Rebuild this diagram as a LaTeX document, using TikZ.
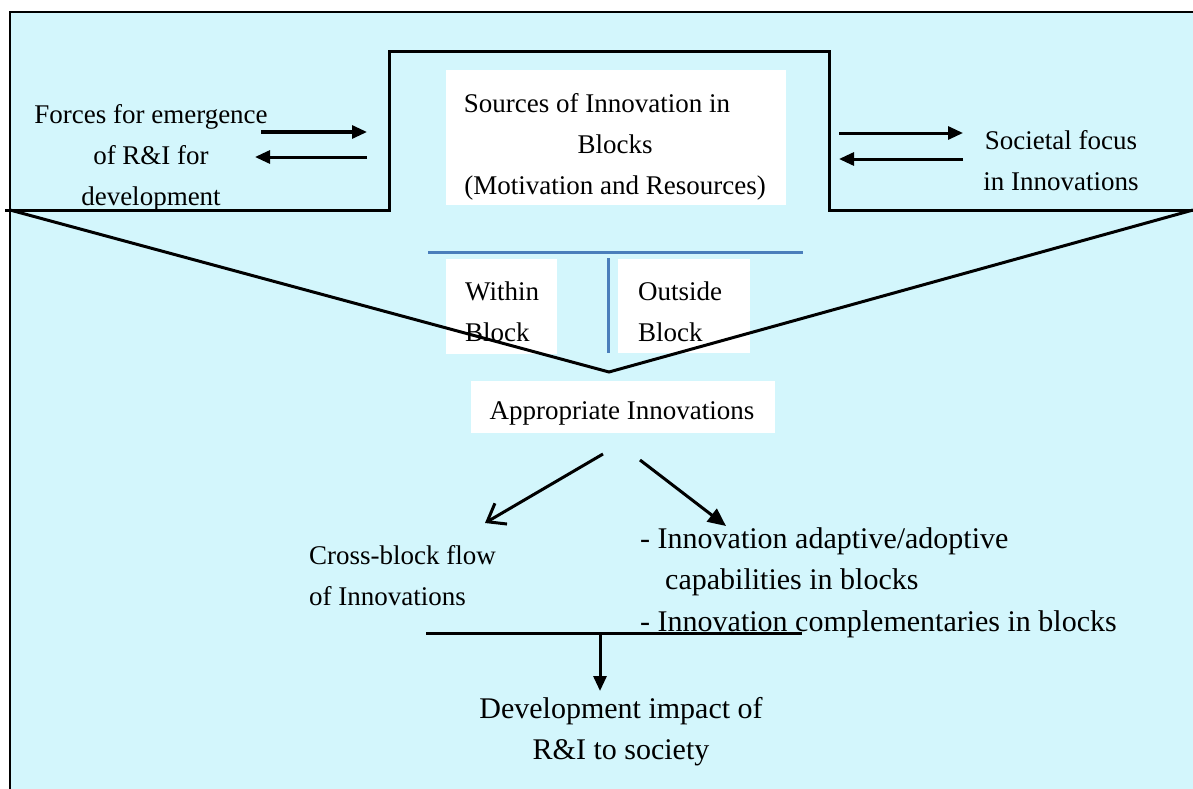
\documentclass[tikz,border=0pt]{standalone}
\usepackage{fontspec}
\setmainfont{Liberation Serif}
\usetikzlibrary{arrows.meta}
\definecolor{bgcyan}{RGB}{211,246,252}
\definecolor{lineblue}{RGB}{74,126,187}
\tikzset{
  txt/.style={inner sep=0pt, font=\fontsize{27}{41}\selectfont},
  bigtxt/.style={inner sep=0pt, font=\fontsize{30}{41.5}\selectfont},
  whitebox/.style={fill=white, draw=none, inner sep=0pt, anchor=north west},
  blk/.style={line width=3pt, black},
  fatarrow/.style={line width=3pt, -{Triangle[length=15pt,width=13pt]}},
  diagfilled/.style={line width=3pt, -{Triangle[length=18pt,width=16pt]}},
  openarrow/.style={line width=3pt, -{Straight Barb[length=16pt,width=24pt]}},
  blueline/.style={line width=3pt, lineblue},
}
\begin{document}
\begin{tikzpicture}[x=1pt,y=-1pt]
\useasboundingbox (0,0) rectangle (1193,789);
\fill[white] (0,0) rectangle (1193,789);
\fill[bgcyan] (10,12) rectangle (1193,789);
\draw[line width=1.5pt] (10,789) -- (10,12) -- (1193,12);

% white boxes
\node[whitebox, minimum width=340pt, minimum height=135pt] (srcbox) at (446,70) {};
\node[whitebox, minimum width=111pt, minimum height=95pt] (withinbox) at (446,259) {};
\node[whitebox, minimum width=132pt, minimum height=94pt] (outsidebox) at (618,259) {};
\node[whitebox, minimum width=304pt, minimum height=52pt] (appbox) at (471,381) {};

% texts
\node[txt, align=center, anchor=north] (forces) at (151,104) {Forces for emergence\\of R\&I for\\development};
\node[txt, align=center, anchor=north] (srctxt) at (615,93) {Sources of Innovation in\hspace*{36pt}\\Blocks\\(Motivation and Resources)};
\node[txt, align=center, anchor=north] (societal) at (1061,130) {Societal focus\\in Innovations};
\node[txt, align=left, anchor=north west] (within) at (465,282) {Within\\Block};
\node[txt, align=left, anchor=north west] (outside) at (638,282) {Outside\\Block};
\node[txt, anchor=base] (approp) at (622,419) {Appropriate Innovations};
\node[txt, align=left, anchor=north west] (crossflow) at (309,545) {Cross-block flow\\of Innovations};
\node[bigtxt, align=left, anchor=north west] (caplist) at (640,527) {- Innovation adaptive/adoptive\\\hspace*{25pt}capabilities in blocks\\- Innovation complementaries in blocks};
\node[bigtxt, align=center, anchor=north] (impact) at (621,697) {Development impact of\\R\&I to society};

% top outline and funnel
\coordinate (funneltip) at (609,372);
\draw[blk, line join=miter] (5,210) -- (389,210) -- (389,52) -- (829,52) -- (829,210) -- (1193,210);
\draw[blk, line join=miter] (10,210) -- (funneltip) -- (1193,210);

% blue divider
\coordinate (bl1) at (428,252);
\coordinate (bl2) at (803,252);
\coordinate (bv1) at (608,258);
\coordinate (bv2) at (608,353);
\draw[blueline] (bl1) -- (bl2);
\draw[blueline] (bv1) -- (bv2);

% side arrows
\coordinate (la1s) at (261,132);
\coordinate (la1e) at (367,132);
\coordinate (la2s) at (367,157);
\coordinate (la2e) at (255,157);
\draw[fatarrow] (la1s) -- (la1e);
\draw[fatarrow] (la2s) -- (la2e);
\coordinate (ra1s) at (839,133);
\coordinate (ra1e) at (963,133);
\coordinate (ra2s) at (963,159);
\coordinate (ra2e) at (839,159);
\draw[fatarrow] (ra1s) -- (ra1e);
\draw[fatarrow] (ra2s) -- (ra2e);

% diagonal arrows
\coordinate (d1s) at (603,454);
\coordinate (d1e) at (485,523);
\coordinate (d2s) at (640,460);
\coordinate (d2e) at (726,526);
\draw[openarrow] (d1s) -- (d1e);
\draw[diagfilled] (d2s) -- (d2e);

% merge line and down arrow
\coordinate (m1) at (426,633);
\coordinate (m2) at (802,633);
\coordinate (dn1) at (600,634);
\coordinate (dn2) at (600,691);
\draw[blk] (m1) -- (m2);
\draw[fatarrow] (dn1) -- (dn2);
\end{tikzpicture}
\end{document}
